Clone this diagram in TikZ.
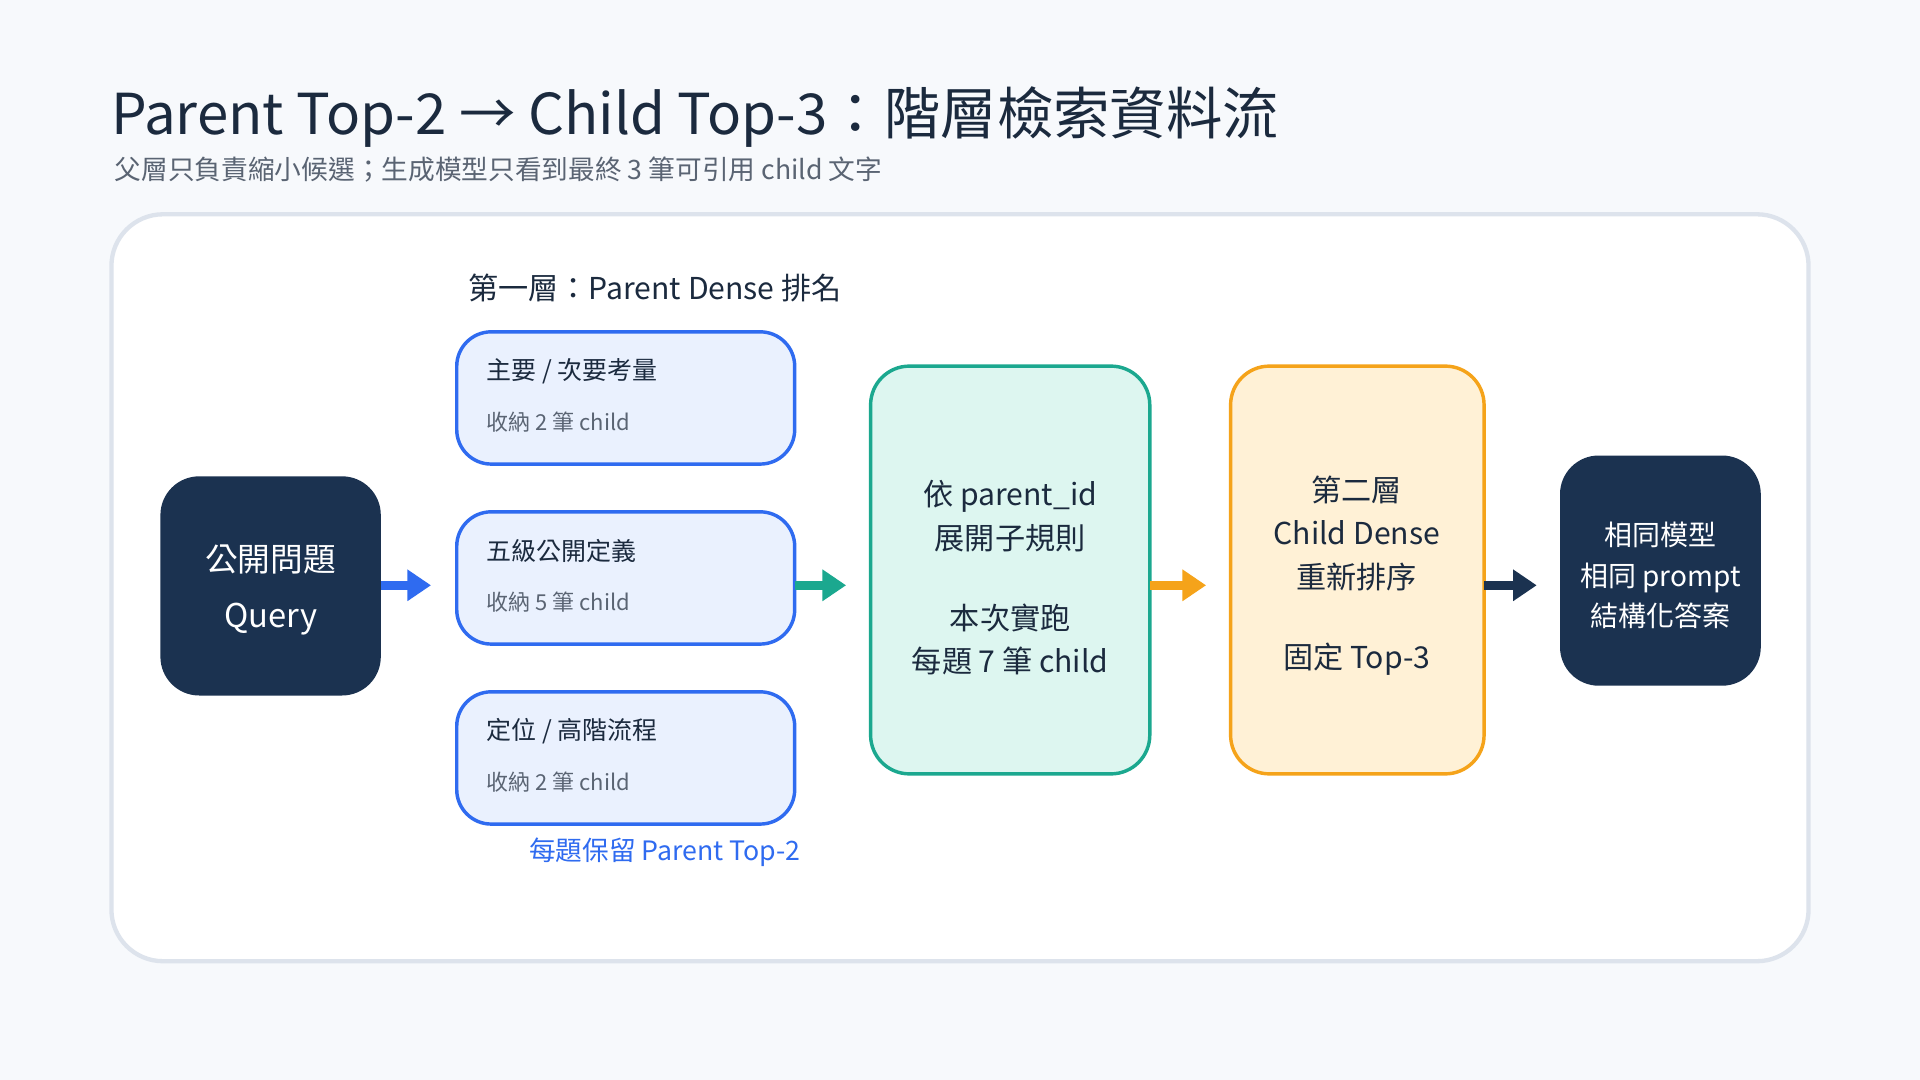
\documentclass[tikz,border=0pt]{standalone}
\usepackage{fontspec}
\setmainfont{Noto Sans CJK TC}
\usetikzlibrary{arrows.meta}
\definecolor{bg}{HTML}{F7F9FC}
\definecolor{pborder}{HTML}{DDE3EC}
\definecolor{navy}{HTML}{1B3250}
\definecolor{bborder}{HTML}{2F6BF0}
\definecolor{bfill}{HTML}{EAF1FE}
\definecolor{tborder}{HTML}{1BA88F}
\definecolor{tfill}{HTML}{DDF6F0}
\definecolor{oborder}{HTML}{F5A31A}
\definecolor{ofill}{HTML}{FFF1D6}
\definecolor{txt}{HTML}{1B2A3E}
\definecolor{gtxt}{HTML}{5A6473}
\newcommand{\fs}[1]{\fontsize{#1pt}{\fpeval{#1*1.45}pt}\selectfont}
\begin{document}
\begin{tikzpicture}[x=0.01cm,y=-0.01cm,
  blue box/.style={draw=bborder,fill=bfill,line width=0.8pt,rounded corners=8pt},
  arr/.style={line width=2.2pt,-{Triangle[length=5.5pt,width=7pt]}},
  btitle/.style={anchor=west,text=txt,font=\fs{5.8}},
  bsub/.style={anchor=west,text=gtxt,font=\fs{5.1}}]
\fill[bg] (0,0) rectangle (1568,882);
\useasboundingbox (0,0) rectangle (1568,882);
\node[anchor=base west,inner sep=0,text=txt,font=\fs{13.1}] (title) at (90,110) {Parent Top-2 → Child Top-3：階層檢索資料流};
\node[anchor=base west,inner sep=0,text=gtxt,font=\fs{6.2}] (sub) at (93,147) {父層只負責縮小候選；生成模型只看到最終 3 筆可引用 child 文字};
\draw[pborder,fill=white,line width=1pt,rounded corners=12pt] (91,175) rectangle (1477,785);
\node[anchor=west,text=txt,font=\fs{7}] (sec) at (370,235) {第一層：Parent Dense 排名};
\fill[navy,rounded corners=9pt] (131,389) rectangle (311,568);
\node[text=white,align=center,font=\fs{7.6}] (q) at (221,482) {公開問題\\[2pt]Query};
\coordinate (qe) at (311,478);
\draw[blue box] (373,271) rectangle (649,379);
\draw[blue box] (373,418) rectangle (649,526);
\draw[blue box] (373,565) rectangle (649,673);
\node[btitle] (b1) at (385,303) {主要 / 次要考量};
\node[bsub] (b1s) at (385,345) {收納 2 筆 child};
\node[btitle] (b2) at (385,450) {五級公開定義};
\node[bsub] (b2s) at (385,492) {收納 5 筆 child};
\node[btitle] (b3) at (385,597) {定位 / 高階流程};
\node[bsub] (b3s) at (385,639) {收納 2 筆 child};
\node[text=bborder,font=\fs{6.2}] (cap) at (543,696) {每題保留 Parent Top-2};
\coordinate (be) at (649,478);
\draw[draw=tborder,fill=tfill,line width=0.8pt,rounded corners=9pt] (711,299) rectangle (939,632);
\node[text=txt,align=center,font=\fs{7}] (t) at (825,472) {依 parent\_id\\展開子規則\\[1.2em]本次實跑\\每題 7 筆 child};
\draw[draw=oborder,fill=ofill,line width=0.8pt,rounded corners=9pt] (1005,299) rectangle (1212,632);
\node[text=txt,align=center,font=\fs{7}] (o) at (1108,470) {第二層\\Child Dense\\重新排序\\[1.2em]固定 Top-3};
\fill[navy,rounded corners=9pt] (1274,372) rectangle (1438,560);
\node[text=white,align=center,font=\fs{6.5}] (r) at (1356,470) {相同模型\\相同 prompt\\結構化答案};
\coordinate (q2) at (352,478);
\coordinate (t2) at (691,478);
\coordinate (o1) at (939,478);\coordinate (o2) at (985,478);
\coordinate (r1) at (1212,478);\coordinate (r2) at (1255,478);
\draw[arr,bborder] (qe) -- (q2);
\draw[arr,tborder] (be) -- (t2);
\draw[arr,oborder] (o1) -- (o2);
\draw[arr,navy] (r1) -- (r2);
\end{tikzpicture}
\end{document}
